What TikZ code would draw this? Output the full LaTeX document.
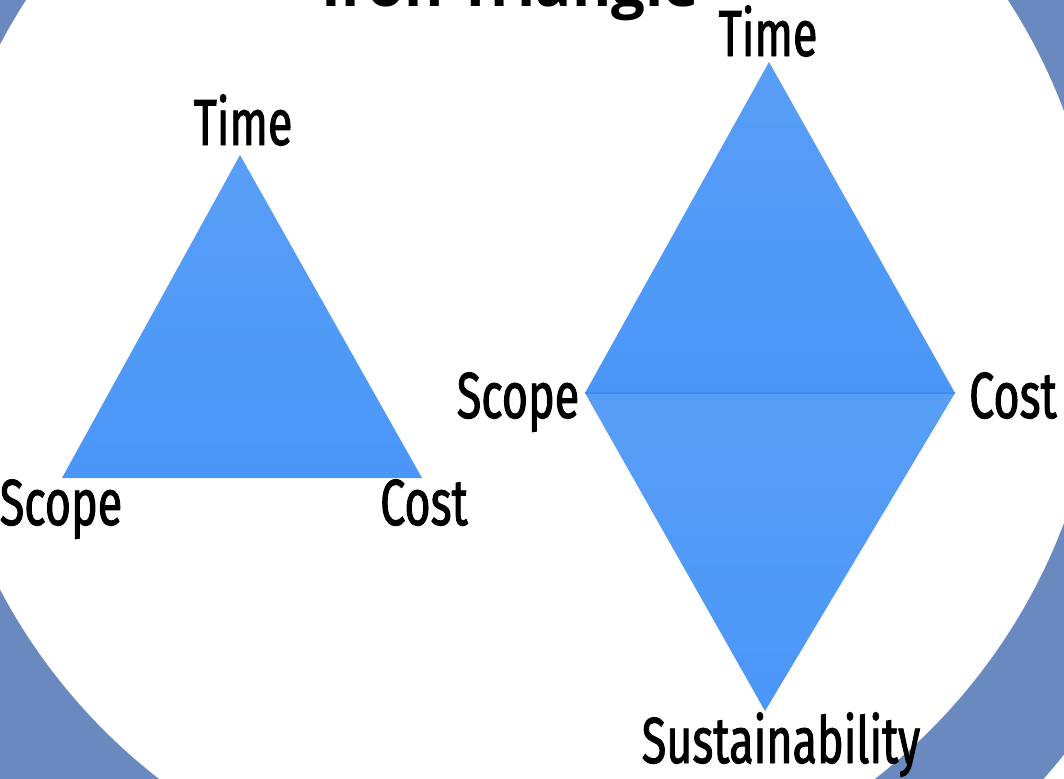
\documentclass[tikz,border=0pt]{standalone}
\usepackage{fontspec}
\setmainfont{Fira Sans}[FakeStretch=0.69,FakeBold=1.4]
\newfontfamily\titlefont{Open Sans}
\usetikzlibrary{positioning,calc}
\definecolor{SlateRing}{RGB}{106,137,191}
\definecolor{SkyBase}{RGB}{74,150,248}
\definecolor{SkyLight}{RGB}{88,158,246}
\definecolor{SkySeam}{RGB}{62,139,232}
\colorlet{ColourRing}{SlateRing}
\colorlet{ColourFill}{SkyBase}
\colorlet{ColourTop}{SkyLight}
\colorlet{ColourSeam}{SkySeam}
\tikzset{
  slide style/.style={
    x=0.01cm, y=-0.01cm,
  },
  ring/.style={
    fill=ColourRing,
    even odd rule
  },
  corner label/.style={
    font=\addfontfeature{FakeBold=1.4}\fontsize{18.5}{20}\selectfont,
    text=black,
    inner sep=0pt
  },
  title label/.style={
    font=\titlefont\bfseries\fontsize{17}{20}\selectfont,
    text=black,
    inner sep=0pt
  },
  triangle fill/.style={
    top color=ColourTop,
    bottom color=ColourFill,
    draw=none
  },
  seam/.style={
    draw=ColourSeam,
    line width=.4pt
  },
}

\begin{document}
\begin{tikzpicture}[slide style]
    \useasboundingbox (0,0) rectangle (1064,778);
    \clip (0,0) rectangle (1064,778);
    \coordinate (centre) at (517,317);
    \fill[ring] (centre) circle (7cm) (centre) circle (5.84cm);
    \node[title label, anchor=base] (title) at (510,6) {Iron Triangle};
    \begin{scope}
      \coordinate (v1) at (240,155);
      \coordinate (v2) at (62,478);
      \coordinate (v3) at (422,478);
      \shade[triangle fill] (v1) -- (v3) -- (v2) -- cycle;
      \node[corner label, anchor=base] (t1) at (243,145) {Time};
      \node[corner label, anchor=base] (s1) at (61,525) {Scope};
      \node[corner label, anchor=base] (c1) at (424,525) {Cost};
    \end{scope}
    \begin{scope}
      \coordinate (v1) at (769,62);
      \coordinate (v2) at (585,393);
      \coordinate (v3) at (955,393);
      \coordinate (v4) at (765,711);
      \shade[triangle fill] (v1) -- (v3) -- (v2) -- cycle;
      \shade[triangle fill] (v2) -- (v3) -- (v4) -- cycle;
      \draw[seam] (v2) -- (v3);
      \node[corner label, anchor=base] (t2) at (768,56) {Time};
      \node[corner label, anchor=base] (s2) at (518,418) {Scope};
      \node[corner label, anchor=base] (c2) at (1013,418) {Cost};
      \node[corner label, anchor=base] (u2) at (781,763) {Sustainability};
    \end{scope}
  \end{tikzpicture}
\end{document}
